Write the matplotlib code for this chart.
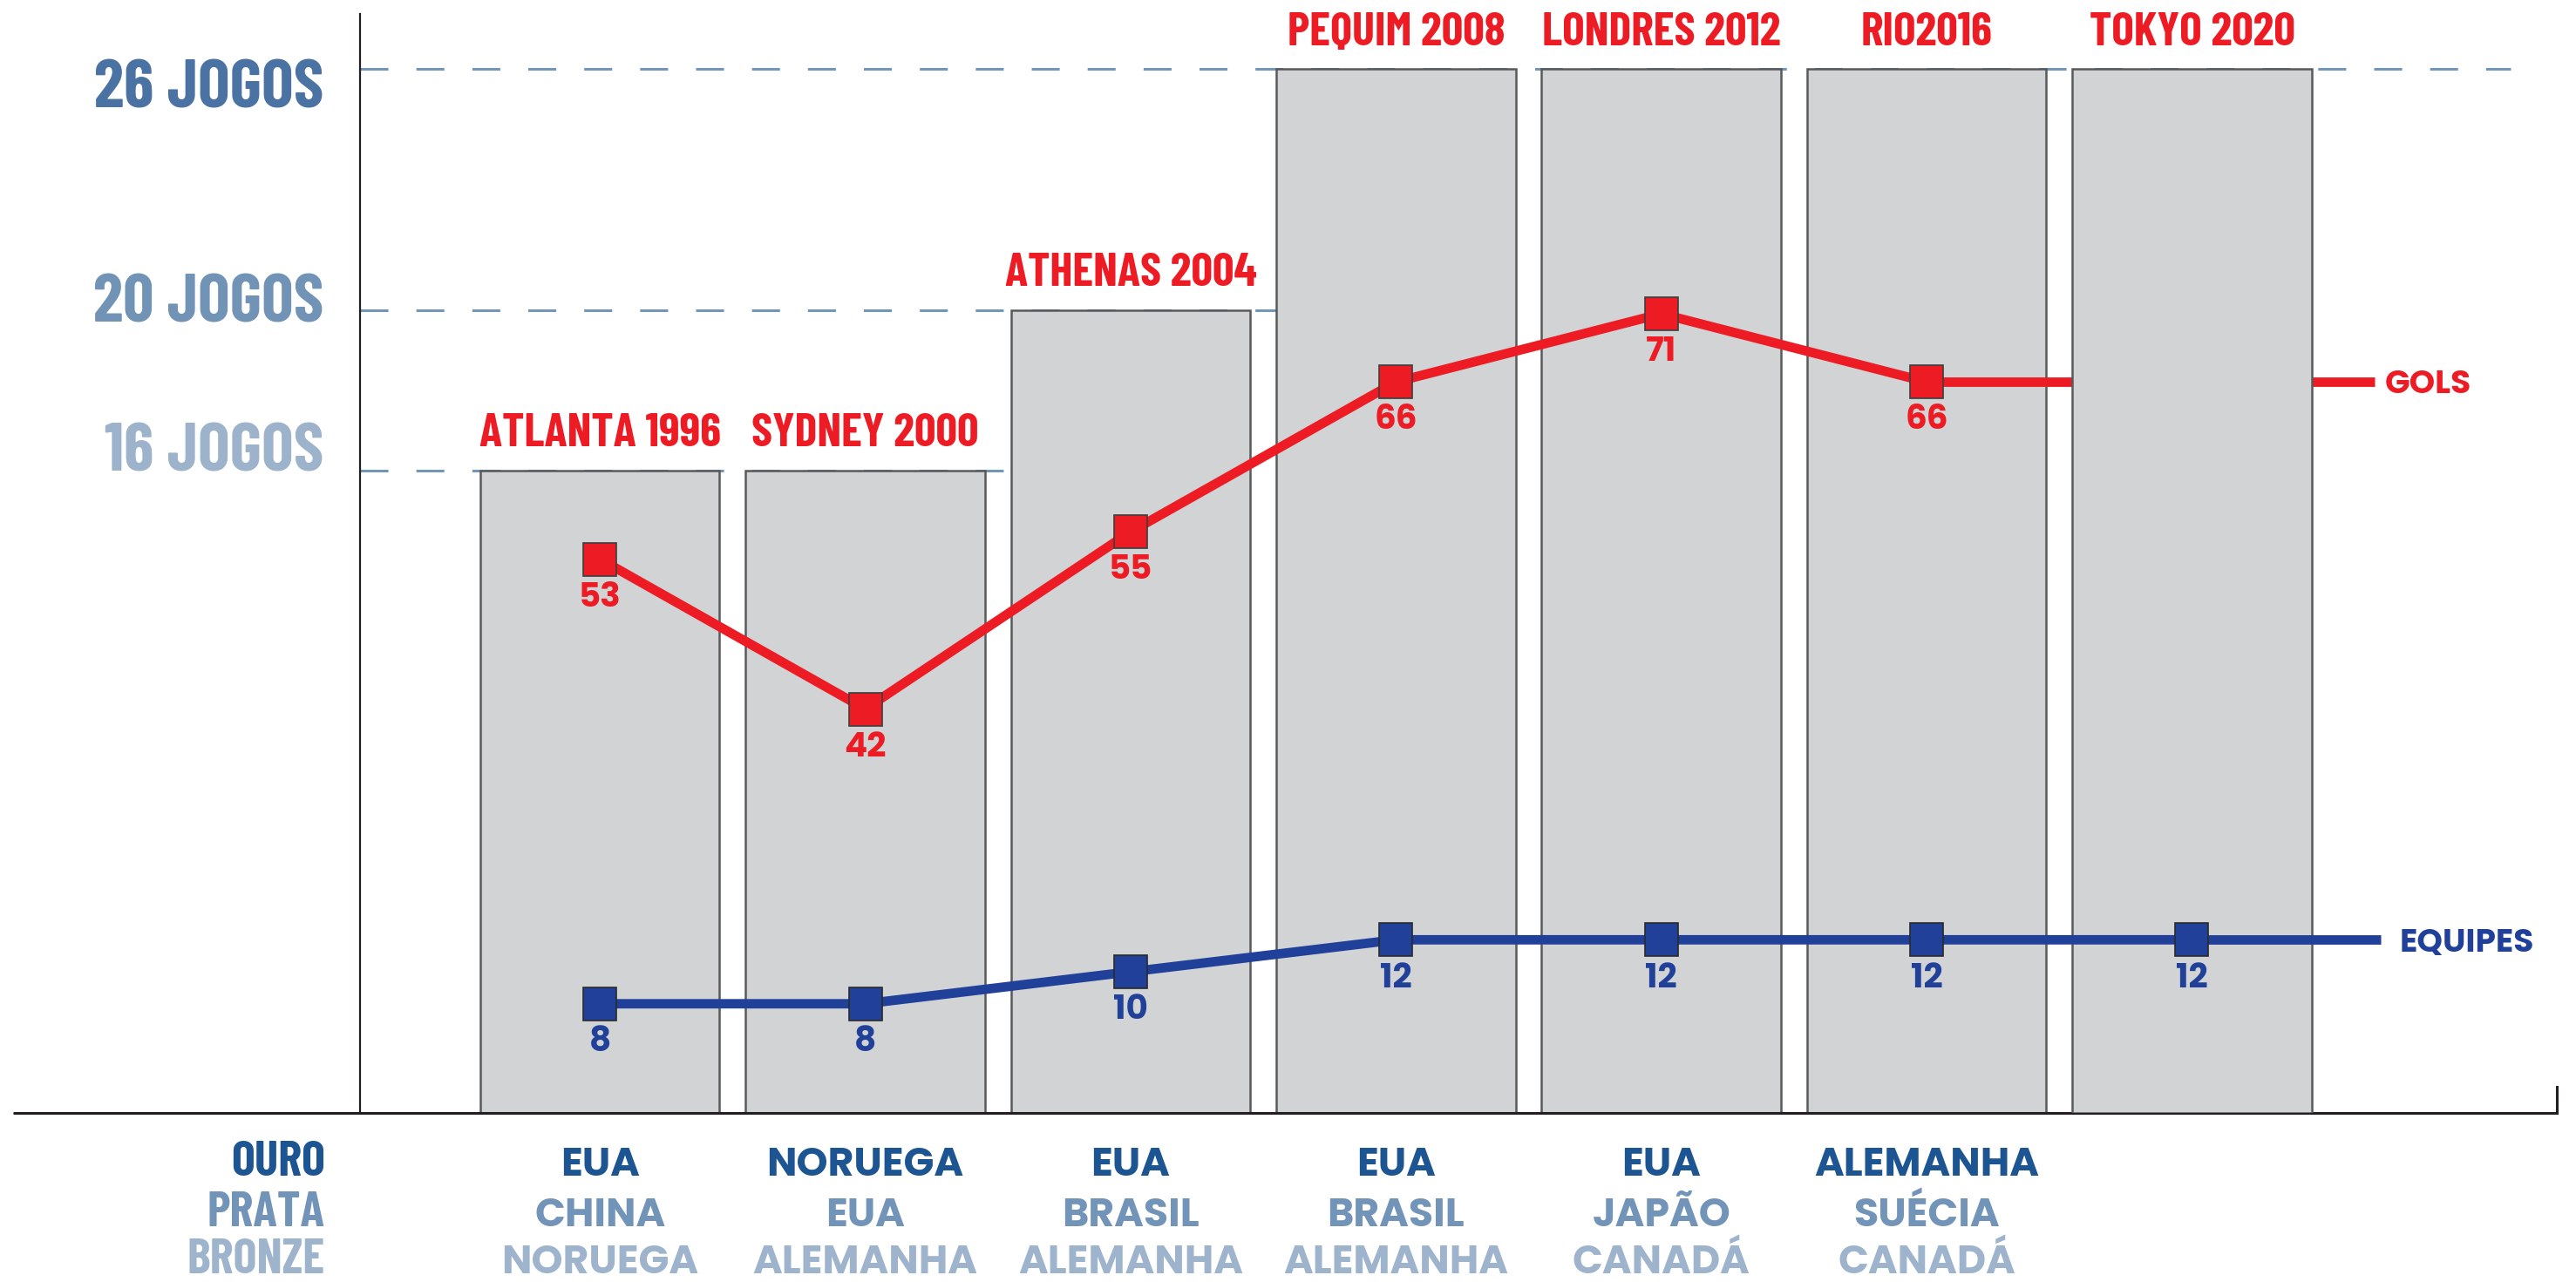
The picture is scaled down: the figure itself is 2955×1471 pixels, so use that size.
import numpy as np
import matplotlib
matplotlib.use('Agg')
import matplotlib.pyplot as plt

# dados
sedes = ['ATLANTA 1996', 'SYDNEY 2000', 'ATHENAS 2004', 'PEQUIM 2008',
         'LONDRES 2012', 'RIO2016', 'TOKYO 2020']
jogos = np.array([16, 16, 20, 26, 26, 26, 26])
gols = np.array([53, 42, 55, 66, 71, 66, np.nan])
equipes = np.array([8, 8, 10, 12, 12, 12, 12])
ouro = ['EUA', 'NORUEGA', 'EUA', 'EUA', 'EUA', 'ALEMANHA', '']
prata = ['CHINA', 'EUA', 'BRASIL', 'BRASIL', 'JAPÃO', 'SUÉCIA', '']
bronze = ['NORUEGA', 'ALEMANHA', 'ALEMANHA', 'ALEMANHA', 'CANADÁ', 'CANADÁ', '']
niveis = [16, 20, 26]
niveis_txt = ['16 JOGOS', '20 JOGOS', '26 JOGOS']
podio_txt = ['OURO', 'PRATA', 'BRONZE']

# cores / fontes
RED = '#ed1c24'
BLUE = '#21409a'
BAR = '#d1d3d4'
BAR_EDGE = '#58595b'
DASH = '#7196ba'
AXC = '#231f20'
niveis_cor = ['#9db3cb', '#7093b6', '#4a72a3']
podio_cor = ['#1d5592', '#7294b8', '#9eb4cc']
COND = ['Barlow Condensed', 'Oswald', 'DejaVu Sans']
GEO = ['Poppins', 'Montserrat', 'DejaVu Sans']

W, H, DPI = 2955, 1471, 100
fig = plt.figure(figsize=(W / DPI, H / DPI), dpi=DPI)
ax = fig.add_axes([0.13976, 0.13188, 0.8528, 0.85724])

x = np.arange(len(sedes))
XMIN, XMAX = -0.904, 7.375
ax.set_xlim(XMIN, XMAX)
ax.set_ylim(0, 27.377)
ax.set_xticks([])
ax.set_yticks([])
for s in ['top', 'right', 'bottom']:
    ax.spines[s].set_visible(False)
ax.spines['left'].set_color(AXC)
ax.spines['left'].set_linewidth(1.6)

# linhas tracejadas de referencia
dash_end = [2, 3, 7.2]
for n, xe in zip(niveis, dash_end):
    ax.plot([XMIN, xe], [n, n], color=DASH, lw=2.2, ls=(0, (10.5, 10.5)), zorder=1)

# rotulos de jogos
niv_off = [0.0, -0.3, -0.95]
for n, t, c, o in zip(niveis, niveis_txt, niveis_cor, niv_off):
    ax.text(-1.04, n + o, t, ha='right', va='baseline', color=c,
            fontsize=56, fontweight='bold', family=COND, clip_on=False)

futuro = np.isnan(gols)
bw = 0.902
ax.bar(x[~futuro], jogos[~futuro], width=bw, color=BAR, edgecolor=BAR_EDGE,
       lw=1.8, zorder=2)

# sedes acima das barras
for xi, s, j in zip(x, sedes, jogos):
    ax.text(xi, j + 0.6, s, ha='center', va='baseline', color=RED,
            fontsize=39, fontweight='bold', family=COND)

# eixo de base
ax.plot([-0.158, 1.0], [0, 0], transform=ax.transAxes, color=AXC, lw=2.2,
        clip_on=False, zorder=10, solid_capstyle='butt')
ax.plot([1.0, 1.0], [0, 0.024], transform=ax.transAxes, color=AXC, lw=2.2,
        clip_on=False, zorder=10)

# podio
rows_y = [-0.0571, -0.1031, -0.1459]
for ry, pt, pc, nomes in zip(rows_y, podio_txt, podio_cor, [ouro, prata, bronze]):
    ax.text(-1.0355, ry, pt, transform=ax.get_xaxis_transform(), ha='right',
            va='baseline', color=pc, fontsize=41, fontweight='bold',
            family=COND, clip_on=False)
    for xi, nm in zip(x, nomes):
        ax.text(xi, ry, nm, transform=ax.get_xaxis_transform(), ha='center',
                va='baseline', color=pc, fontsize=33, fontweight='bold',
                family=GEO, clip_on=False)

line_end_red = 6.688
line_end_blue = 6.711

# gols
ax_red = ax.twinx()
ax_red.set_ylim(12.36, 93.0)
ax_red.set_axis_off()
xr = x[~futuro]
gr = gols[~futuro]
ax_red.plot([xr[-1], line_end_red], [gr[-1], gr[-1]], color=RED, lw=7.8,
            solid_capstyle='butt')
ax_red.plot(xr, gr, color=RED, lw=7.8, marker='s', ms=27.5, mfc=RED,
            mec='#3d3d3d', mew=1.2)
for xi, g in zip(xr, gr):
    ax_red.annotate(f'{g:.0f}', (xi, g), xytext=(0, -39), textcoords='offset points',
                    ha='center', va='baseline', color=RED, fontsize=28,
                    fontweight='bold', family=GEO)
ax_red.annotate('GOLS', (6.727, gr[-1]), xytext=(0, -9.5), textcoords='offset points',
                ha='left', va='baseline', color=RED, fontsize=27,
                fontweight='bold', family=GEO, annotation_clip=False)

# barra futura por cima da linha de gols
ax_top = ax.twinx()
ax_top.set_ylim(ax.get_ylim())
ax_top.set_axis_off()
ax_top.bar(x[futuro], jogos[futuro], width=bw, color=BAR, edgecolor=BAR_EDGE, lw=1.8)

# equipes
ax_blue = ax.twinx()
ax_blue.set_ylim(1.174, 69.89)
ax_blue.set_axis_off()
ax_blue.plot([x[-1], line_end_blue], [equipes[-1], equipes[-1]], color=BLUE,
             lw=7.8, solid_capstyle='butt')
ax_blue.plot(x, equipes, color=BLUE, lw=7.8, marker='s', ms=27.5, mfc=BLUE,
             mec='#2a2a2a', mew=1.2)
for xi, e in zip(x, equipes):
    ax_blue.annotate(f'{e}', (xi, e), xytext=(0, -39), textcoords='offset points',
                     ha='center', va='baseline', color=BLUE, fontsize=28,
                     fontweight='bold', family=GEO)
ax_blue.annotate('EQUIPES', (6.783, equipes[-1]), xytext=(0, -9.5),
                 textcoords='offset points', ha='left', va='baseline', color=BLUE,
                 fontsize=27, fontweight='bold', family=GEO, annotation_clip=False)

fig.savefig('out.png', dpi=DPI)
